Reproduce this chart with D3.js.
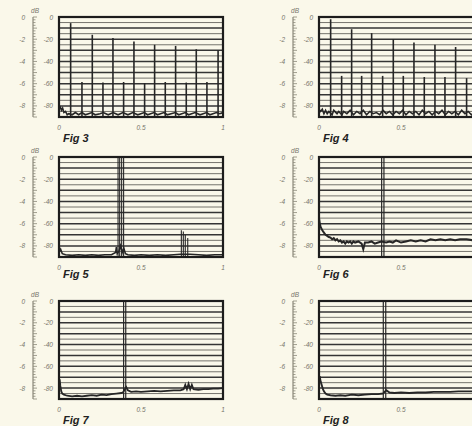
<!DOCTYPE html>
<html><head><meta charset="utf-8">
<script src="https://cdn.jsdelivr.net/npm/d3@7"></script>
<style>
html,body{margin:0;padding:0;background:#faf8ea;}
svg{display:block;}
</style></head>
<body>
<svg id="c" width="472" height="426"></svg>
<script>
// ---------- data ----------
const figLabels = ["Fig 3","Fig 4","Fig 5","Fig 6","Fig 7","Fig 8"];
const dbTicks = [0,-20,-40,-60,-80];
const dbTickLabels = ["0","-20","-40","-60","-80"];
const outerTickLabels = ["0","-2","-4","-6","-8"];
const xTicks = [0,0.5,1];
const xTickLabels = ["0","0.5","1"];

const fig3Freq  = [0.071,0.140,0.203,0.268,0.329,0.394,0.457,0.522,0.583,0.648,0.711,0.776,0.837,0.902,0.970];
const fig3Level = [-5.5,-58.5,-16,-59,-19,-58.5,-22,-59.5,-25,-58.5,-26,-59,-29,-58.5,-30];
const fig4Freq  = [0.071,0.138,0.199,0.260,0.321,0.388,0.453,0.514,0.579,0.642,0.707,0.768,0.833,0.900,0.963];
const fig4Level = [-2,-53,-11,-53,-14.5,-53,-20,-53,-23,-54,-25,-54,-27,-55,-29];
const fig5Freq  = [0.360,0.370,0.382,0.394,0.746,0.758,0.770,0.785];
const fig5Level = [0,0,0,0,-66,-67,-70,-73];
const fig6Freq  = [0.382,0.396];
const fig6Level = [0,0];
const fig7Freq  = [0.394,0.407];
const fig7Level = [0,0];
const fig8Freq  = [0.392,0.407];
const fig8Level = [0,0];

const fig3Floor = [[0,-80],[0.008,-81],[0.015,-84],[0.022,-82],[0.03,-86],[0.04,-85],[0.05,-88],[0.06,-87],[0.08,-88],[0.1,-86],[0.12,-88],[0.14,-86],[0.16,-88],[0.18,-87],[0.2,-86],[0.22,-88],[0.25,-87],[0.27,-86],[0.3,-88],[0.33,-86],[0.36,-88],[0.39,-86],[0.42,-88],[0.45,-86],[0.48,-88],[0.52,-86],[0.54,-88],[0.58,-86],[0.6,-88],[0.64,-86],[0.66,-88],[0.71,-86],[0.73,-88],[0.77,-86],[0.79,-88],[0.83,-86],[0.86,-88],[0.9,-86],[0.92,-88],[0.96,-86],[0.98,-87],[1,-86]];
const fig4Floor = [[0,-83],[0.01,-85],[0.02,-83],[0.03,-87],[0.04,-84],[0.05,-87],[0.06,-85],[0.08,-88],[0.09,-84],[0.11,-87],[0.12,-85],[0.14,-88],[0.15,-85],[0.17,-87],[0.19,-84],[0.21,-88],[0.23,-85],[0.25,-87],[0.27,-84],[0.29,-88],[0.31,-85],[0.33,-87],[0.35,-86],[0.37,-88],[0.39,-84],[0.41,-87],[0.43,-85],[0.45,-88],[0.47,-85],[0.49,-87],[0.51,-84],[0.53,-88],[0.55,-85],[0.57,-87],[0.59,-85],[0.61,-88],[0.63,-84],[0.65,-87],[0.67,-85],[0.69,-88],[0.71,-85],[0.73,-87],[0.75,-84],[0.77,-88],[0.79,-85],[0.81,-87],[0.83,-85],[0.85,-88],[0.87,-84],[0.89,-87],[0.91,-85],[0.93,-88],[0.95,-85],[0.97,-87],[1,-85]];
const fig5Floor = [[0,-86],[0.01,-83],[0.02,-87],[0.04,-88],[0.08,-88.5],[0.12,-88],[0.16,-88.5],[0.2,-88],[0.24,-88.5],[0.28,-88],[0.32,-88],[0.345,-86],[0.35,-81],[0.355,-87],[0.365,-85],[0.375,-80],[0.385,-86],[0.395,-82],[0.405,-87],[0.42,-88],[0.46,-88.5],[0.5,-88],[0.55,-88.5],[0.6,-88],[0.65,-88.5],[0.7,-88],[0.74,-87.5],[0.8,-87.5],[0.85,-88],[0.9,-88.5],[0.95,-88],[1,-88]];
const fig6Floor = [[0,-55],[0.005,-60],[0.01,-63],[0.02,-66],[0.03,-68],[0.04,-70],[0.05,-71],[0.06,-72],[0.07,-72.5],[0.08,-74],[0.09,-73],[0.1,-75],[0.11,-74],[0.12,-76],[0.13,-75],[0.14,-77],[0.15,-76],[0.16,-78],[0.17,-76],[0.18,-77],[0.19,-76],[0.2,-78],[0.21,-76],[0.22,-77],[0.24,-76],[0.26,-78],[0.27,-83],[0.28,-77],[0.3,-77],[0.32,-76],[0.34,-78],[0.36,-77],[0.38,-76],[0.41,-77],[0.43,-76],[0.45,-77],[0.47,-75],[0.5,-77],[0.53,-76],[0.56,-75],[0.59,-76],[0.62,-75],[0.65,-76],[0.68,-74],[0.71,-75],[0.74,-74],[0.77,-75],[0.8,-74],[0.83,-75],[0.86,-74],[0.9,-74],[0.94,-75],[0.97,-74],[1,-74]];
const fig7Floor = [[0,-80],[0.004,-72],[0.008,-78],[0.014,-83],[0.02,-85],[0.03,-86],[0.05,-87],[0.08,-87.5],[0.11,-87],[0.14,-87.5],[0.17,-87],[0.2,-86.5],[0.23,-87],[0.26,-86],[0.29,-86.5],[0.32,-85.5],[0.35,-85],[0.38,-84.5],[0.39,-84],[0.41,-79],[0.42,-82],[0.44,-83.5],[0.47,-83],[0.5,-83.5],[0.54,-83],[0.58,-82.5],[0.62,-83],[0.66,-82.5],[0.7,-82],[0.74,-82],[0.76,-81],[0.77,-77],[0.78,-81],[0.79,-76],[0.8,-81],[0.81,-77],[0.82,-81],[0.85,-81.5],[0.88,-81],[0.91,-81],[0.94,-80.5],[0.97,-80.5],[1,-80]];
const fig8Floor = [[0,-72],[0.004,-69],[0.01,-74],[0.016,-77],[0.024,-81],[0.03,-83],[0.04,-85],[0.05,-86],[0.07,-86.5],[0.1,-87],[0.13,-86.5],[0.16,-87],[0.2,-86],[0.24,-86.5],[0.28,-86],[0.32,-85.5],[0.36,-85.5],[0.39,-85],[0.41,-82],[0.43,-84],[0.46,-84.5],[0.5,-84],[0.55,-84.5],[0.6,-84],[0.65,-84],[0.7,-83.5],[0.75,-83.5],[0.8,-83.5],[0.85,-83],[0.9,-83],[0.95,-83],[1,-83]];

// ---------- layout ----------
const W = 472;
const boxW = 164;
const colX = [59, 319];
const rowTop = [17, 157, 301];
const rowH = [100, 100, 98];
const panels = [
  {label:figLabels[0], freq:fig3Freq, level:fig3Level, floor:fig3Floor, c:0, r:0, lw:1.6, fw:1.6},
  {label:figLabels[1], freq:fig4Freq, level:fig4Level, floor:fig4Floor, c:1, r:0, lw:1.6, fw:1.6},
  {label:figLabels[2], freq:fig5Freq, level:fig5Level, floor:fig5Floor, c:0, r:1, lw:1.1, fw:1.6},
  {label:figLabels[3], freq:fig6Freq, level:fig6Level, floor:fig6Floor, c:1, r:1, lw:1.2, fw:2.0},
  {label:figLabels[4], freq:fig7Freq, level:fig7Level, floor:fig7Floor, c:0, r:2, lw:1.2, fw:1.8},
  {label:figLabels[5], freq:fig8Freq, level:fig8Level, floor:fig8Floor, c:1, r:2, lw:1.2, fw:1.9}
];

const svg = d3.select("#c");
const ink = "#262626";
const grey = "#8a8878";

panels.forEach((p,i) => {
  const left = colX[p.c], top = rowTop[p.r], h = rowH[p.r];
  const x = d3.scaleLinear().domain([0,1]).range([left, left+boxW]);
  const y = d3.scaleLinear().domain([-90,0]).range([top+h, top]);
  const g = svg.append("g");

  const cid = "clip"+i;
  svg.append("clipPath").attr("id",cid).append("rect")
    .attr("x",left).attr("y",top).attr("width",boxW).attr("height",h);

  // grid
  const grid = d3.range(-85, 0, 5);
  g.append("g").selectAll("line").data(grid).join("line")
    .attr("x1",left).attr("x2",left+boxW)
    .attr("y1",d=>y(d)).attr("y2",d=>y(d))
    .attr("stroke", d => d%10===0 ? "#353535" : "#66655f")
    .attr("stroke-width", d => d%10===0 ? 1.5 : 0.9);

  const inner = g.append("g").attr("clip-path",`url(#${cid})`);
  inner.append("path").datum(p.floor)
    .attr("d", d3.line().x(d=>x(d[0])).y(d=>y(d[1])))
    .attr("fill","none").attr("stroke",ink).attr("stroke-width",p.fw);
  inner.selectAll("line.sp").data(p.freq).join("line").attr("class","sp")
    .attr("x1",d=>x(d)).attr("x2",d=>x(d))
    .attr("y1",y(-90)).attr("y2",(d,k)=>y(p.level[k]))
    .attr("stroke",ink).attr("stroke-width",p.lw);

  g.append("rect").attr("x",left).attr("y",top).attr("width",boxW).attr("height",h)
    .attr("fill","none").attr("stroke","#1c1c1c").attr("stroke-width",2.2);

  // left ruler
  const rx = left - 26;
  g.append("line").attr("x1",rx).attr("x2",rx).attr("y1",y(0)).attr("y2",y(-90))
    .attr("stroke",grey).attr("stroke-width",1.2);
  const minor = d3.range(0, -91, -2.5);
  g.append("g").selectAll("line").data(minor).join("line")
    .attr("x1",rx).attr("x2",d => rx + (d%10===0 ? 4 : 2.5))
    .attr("y1",d=>y(d)).attr("y2",d=>y(d))
    .attr("stroke",grey).attr("stroke-width",0.8);

  const txt = (sel) => sel.attr("font-family","Liberation Sans, Arial, sans-serif")
      .attr("font-size",6.5).attr("font-style","italic").attr("fill","#77756a");
  g.append("text").call(txt).attr("x",rx+2).attr("y",top-4).attr("text-anchor","middle").text("dB");
  g.append("g").selectAll("text").data(dbTicks).join("text").call(txt)
    .attr("x",rx-8).attr("y",d=>y(d)+2.5).attr("text-anchor","end")
    .text((d,k)=>outerTickLabels[k]);
  g.append("g").selectAll("text").data(dbTicks).join("text").call(txt)
    .attr("x",left-6).attr("y",d=>y(d)+2.5).attr("text-anchor","end")
    .text((d,k)=>dbTickLabels[k]);
  // x tick labels (only those inside the visible page, as in the cropped scan)
  const xt = xTicks.map((d,k)=>({v:d, t:xTickLabels[k]})).filter(o => x(o.v) < W - 6);
  g.append("g").selectAll("text").data(xt).join("text").call(txt)
    .attr("x",d=>x(d.v)).attr("y",top+h+13).attr("text-anchor","middle")
    .text(d=>d.t);

  g.append("text").attr("x",left+4).attr("y",top+h+(p.r===1?21:25))
    .attr("font-family","Liberation Sans, Arial, sans-serif").attr("font-size",11)
    .attr("font-weight","bold").attr("font-style","italic").attr("fill","#222")
    .text(p.label);
});
</script>
</body></html>
